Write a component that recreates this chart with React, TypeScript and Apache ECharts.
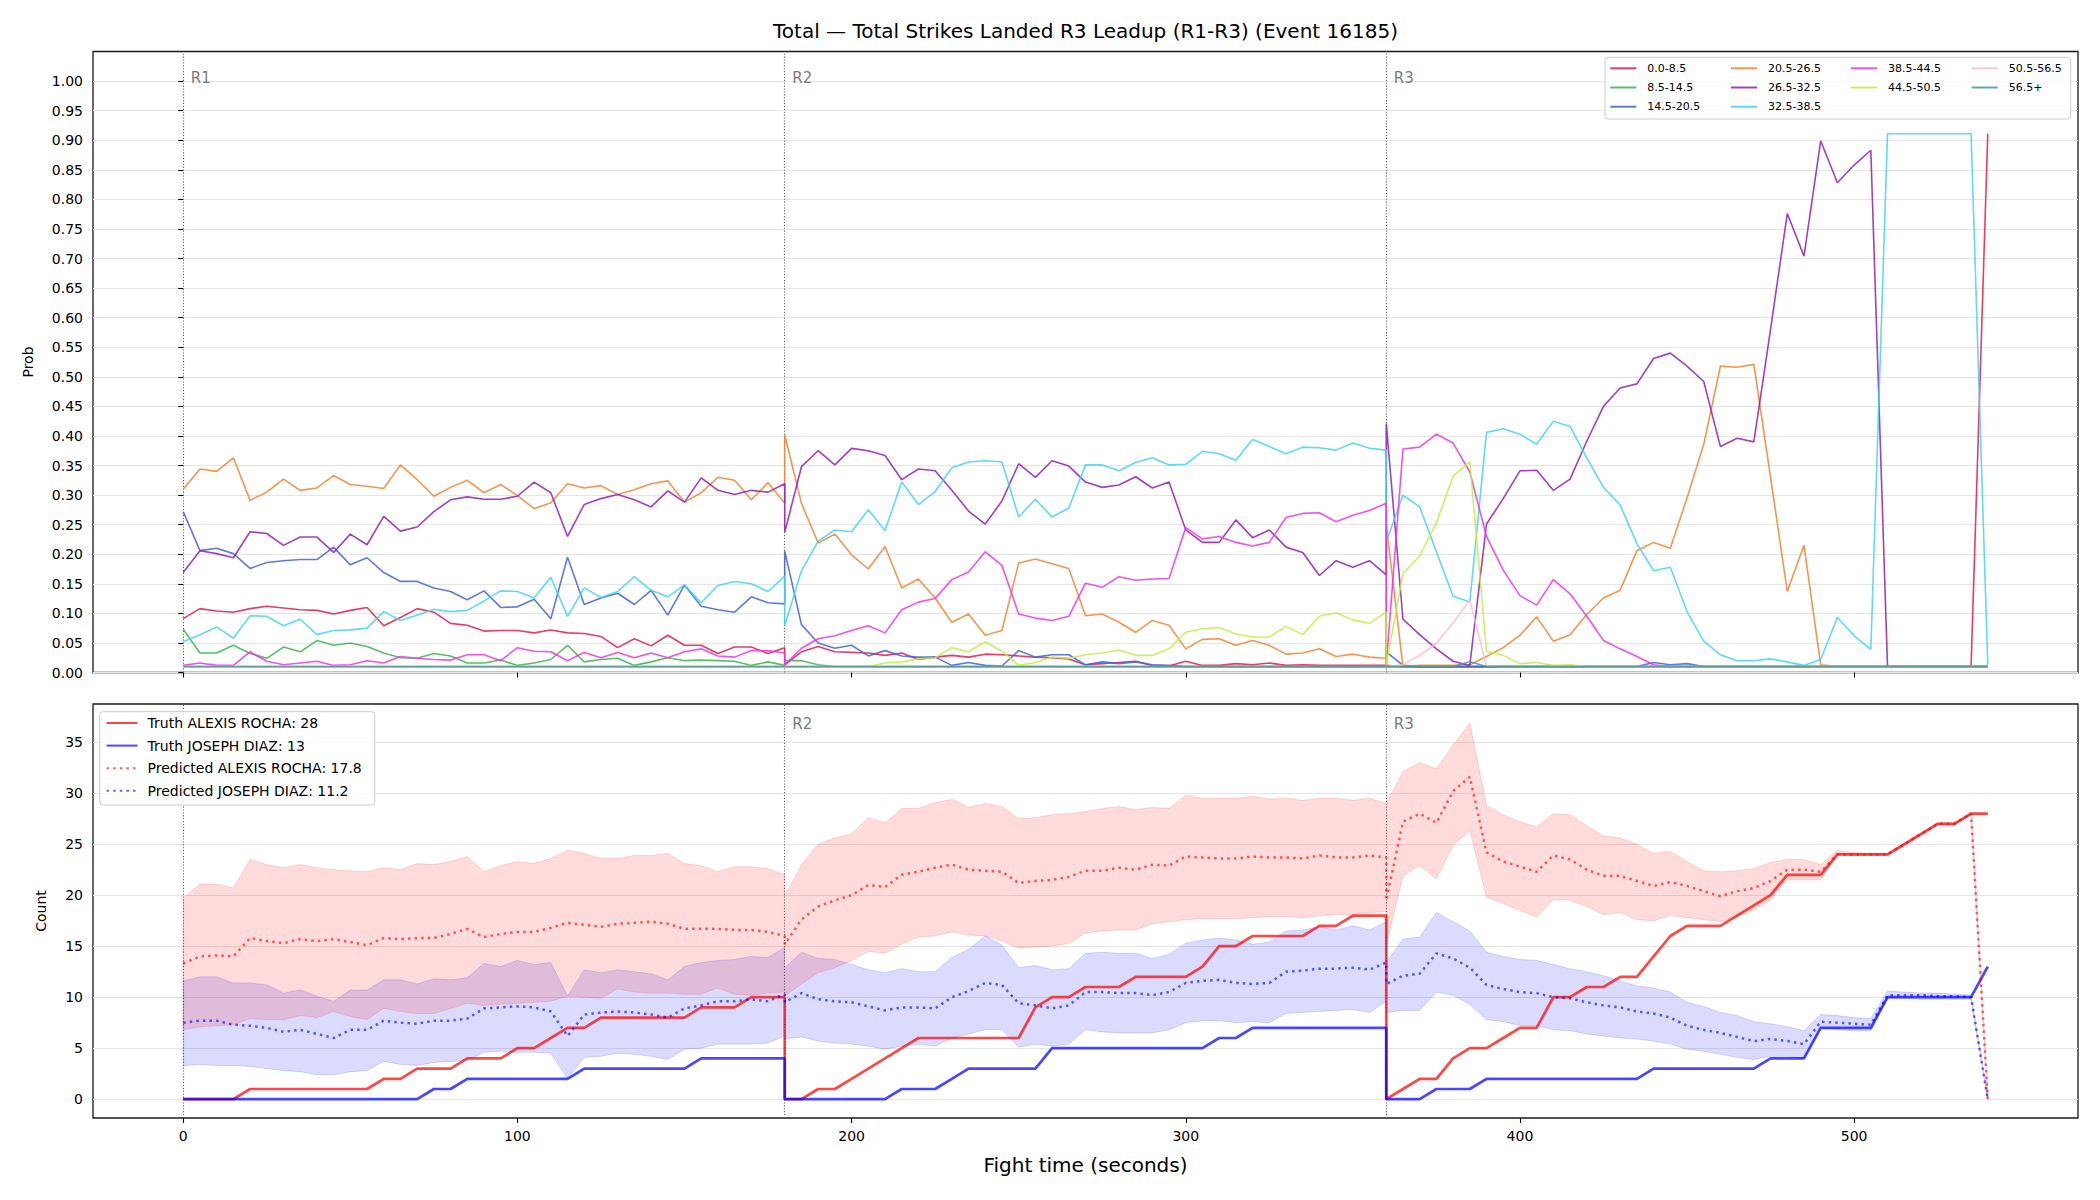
import React, { useEffect, useRef } from "react";
import * as echarts from "echarts";

const FONT = "DejaVu Sans";
const TITLE = "Total \u2014 Total Strikes Landed R3 Leadup (R1-R3) (Event 16185)";

// Time axis: three rounds, each sampled every 5 s from its start (boundaries repeat).
const ROUND_STARTS = [0, 180, 360];
const ROUND_NAMES = ["R1", "R2", "R3"];
const STEP_SECONDS = 5;
const POINTS_PER_ROUND = 37;
const TIMES = ROUND_STARTS.flatMap((start) =>
  Array.from({ length: POINTS_PER_ROUND }, (_, i) => start + i * STEP_SECONDS)
);

const X_TICKS = [0, 100, 200, 300, 400, 500];
const PROB_TICKS = [
  0, 0.05, 0.1, 0.15, 0.2, 0.25, 0.3, 0.35, 0.4, 0.45, 0.5, 0.55, 0.6, 0.65, 0.7, 0.75,
  0.8, 0.85, 0.9, 0.95, 1.0,
];
const COUNT_TICKS = [0, 5, 10, 15, 20, 25, 30, 35];

const BUCKETS = [
  "0.0-8.5", "8.5-14.5", "14.5-20.5", "20.5-26.5", "26.5-32.5",
  "32.5-38.5", "38.5-44.5", "44.5-50.5", "50.5-56.5", "56.5+",
];
const BUCKET_COLORS = [
  "#e6194b", "#3cb44b", "#4363d8", "#f58231", "#911eb4",
  "#42d4f4", "#f032e6", "#bfef45", "#fabed4", "#469990",
];
const LEGEND_COLUMNS = [[0, 1, 2], [3, 4, 5], [6, 7], [8, 9]];

// A round in which a bucket stays at its probability floor.
const FLAT_ROUND = [
  0.01, 0.01, 0.01, 0.01, 0.01, 0.01, 0.01, 0.01, 0.01, 0.01,
  0.01, 0.01, 0.01, 0.01, 0.01, 0.01, 0.01, 0.01, 0.01, 0.01,
  0.01, 0.01, 0.01, 0.01, 0.01, 0.01, 0.01, 0.01, 0.01, 0.01,
  0.01, 0.01, 0.01, 0.01, 0.01, 0.01, 0.01,
];

const P_0_0_8_5 = [
  0.091, 0.108, 0.104, 0.102, 0.108, 0.112, 0.109, 0.106, 0.105, 0.099,
  0.105, 0.110, 0.079, 0.093, 0.108, 0.102, 0.083, 0.080, 0.070, 0.071,
  0.071, 0.067, 0.072, 0.067, 0.066, 0.061, 0.042, 0.057, 0.045, 0.063,
  0.046, 0.046, 0.032, 0.043, 0.043, 0.032, 0.042,
  0.013, 0.035, 0.044, 0.035, 0.034, 0.033, 0.029, 0.033, 0.022, 0.026,
  0.029, 0.026, 0.031, 0.030, 0.028, 0.026, 0.025, 0.023, 0.013, 0.015,
  0.017, 0.019, 0.012, 0.011, 0.019, 0.012, 0.012, 0.015, 0.013, 0.016,
  0.012, 0.013, 0.012, 0.012, 0.012, 0.012, 0.012,
  0.012, 0.01, 0.01, 0.01, 0.01, 0.01, 0.01, 0.01, 0.01, 0.01,
  0.01, 0.01, 0.01, 0.01, 0.01, 0.01, 0.01, 0.01, 0.01, 0.01,
  0.01, 0.01, 0.01, 0.01, 0.01, 0.01, 0.01, 0.01, 0.01, 0.01,
  0.01, 0.01, 0.01, 0.01, 0.01, 0.01, 0.911,
];

const P_8_5_14_5 = [
  0.073, 0.033, 0.033, 0.046, 0.032, 0.024, 0.043, 0.035, 0.054, 0.046,
  0.050, 0.044, 0.033, 0.025, 0.024, 0.032, 0.028, 0.016, 0.016, 0.021,
  0.012, 0.016, 0.022, 0.046, 0.018, 0.022, 0.024, 0.012, 0.018, 0.025,
  0.020, 0.021, 0.020, 0.019, 0.012, 0.018, 0.012,
  0.020, 0.020, 0.013, 0.01, 0.01, 0.01, 0.01, 0.01, 0.01, 0.01,
  0.01, 0.01, 0.01, 0.01, 0.01, 0.01, 0.01, 0.01, 0.01, 0.01,
  0.01, 0.01, 0.01, 0.01, 0.01, 0.01, 0.01, 0.01, 0.01, 0.01,
  0.01, 0.01, 0.01, 0.01, 0.01, 0.01, 0.01,
  ...FLAT_ROUND,
];

const P_14_5_20_5 = [
  0.272, 0.206, 0.210, 0.201, 0.176, 0.186, 0.189, 0.191, 0.191, 0.212,
  0.182, 0.194, 0.169, 0.154, 0.154, 0.143, 0.137, 0.123, 0.138, 0.110,
  0.111, 0.124, 0.091, 0.195, 0.115, 0.126, 0.134, 0.115, 0.139, 0.097,
  0.148, 0.112, 0.106, 0.102, 0.128, 0.118, 0.116,
  0.205, 0.081, 0.050, 0.041, 0.046, 0.028, 0.037, 0.028, 0.026, 0.026,
  0.012, 0.017, 0.012, 0.011, 0.037, 0.026, 0.030, 0.030, 0.013, 0.018,
  0.015, 0.018, 0.013, 0.012, 0.01, 0.01, 0.01, 0.01, 0.01, 0.01,
  0.01, 0.01, 0.01, 0.01, 0.01, 0.01, 0.01,
  0.035, 0.012, 0.01, 0.01, 0.01, 0.01, 0.01, 0.01, 0.01, 0.01,
  0.01, 0.01, 0.01, 0.01, 0.01, 0.01, 0.017, 0.013, 0.015, 0.01,
  0.01, 0.01, 0.01, 0.01, 0.01, 0.01, 0.01, 0.01, 0.01, 0.01,
  0.01, 0.01, 0.01, 0.01, 0.01, 0.01, 0.01,
];

const P_20_5_26_5 = [
  0.310, 0.344, 0.340, 0.363, 0.291, 0.305, 0.327, 0.308, 0.312, 0.333,
  0.318, 0.315, 0.311, 0.351, 0.326, 0.298, 0.313, 0.325, 0.304, 0.318,
  0.299, 0.277, 0.287, 0.319, 0.312, 0.316, 0.301, 0.309, 0.319, 0.324,
  0.288, 0.304, 0.330, 0.325, 0.292, 0.321, 0.286,
  0.402, 0.286, 0.219, 0.234, 0.199, 0.175, 0.213, 0.143, 0.158, 0.126,
  0.085, 0.099, 0.063, 0.071, 0.185, 0.192, 0.184, 0.176, 0.096, 0.099,
  0.085, 0.068, 0.088, 0.080, 0.040, 0.056, 0.057, 0.046, 0.054, 0.046,
  0.031, 0.033, 0.040, 0.027, 0.031, 0.026, 0.024,
  0.250, 0.010, 0.012, 0.012, 0.012, 0.013, 0.027, 0.042, 0.063, 0.094,
  0.053, 0.064, 0.098, 0.126, 0.139, 0.206, 0.220, 0.210, 0.295, 0.386,
  0.518, 0.516, 0.521, 0.330, 0.137, 0.215, 0.013, 0.010, 0.010, 0.010,
  0.010, 0.010, 0.010, 0.010, 0.010, 0.010, 0.010,
];

const P_26_5_32_5 = [
  0.169, 0.206, 0.201, 0.194, 0.238, 0.235, 0.215, 0.229, 0.229, 0.203,
  0.234, 0.216, 0.264, 0.239, 0.246, 0.272, 0.292, 0.297, 0.293, 0.293,
  0.298, 0.322, 0.304, 0.230, 0.284, 0.294, 0.301, 0.292, 0.280, 0.307,
  0.288, 0.329, 0.308, 0.301, 0.308, 0.305, 0.319,
  0.237, 0.348, 0.375, 0.351, 0.379, 0.375, 0.367, 0.326, 0.344, 0.341,
  0.308, 0.273, 0.251, 0.290, 0.353, 0.330, 0.358, 0.349, 0.322, 0.313,
  0.317, 0.331, 0.312, 0.322, 0.241, 0.220, 0.220, 0.258, 0.228, 0.241,
  0.212, 0.203, 0.164, 0.189, 0.178, 0.189, 0.165,
  0.421, 0.090, 0.064, 0.040, 0.019, 0.012, 0.251, 0.294, 0.341, 0.342,
  0.308, 0.327, 0.391, 0.450, 0.481, 0.488, 0.531, 0.540, 0.518, 0.492,
  0.382, 0.396, 0.390, 0.580, 0.776, 0.704, 0.899, 0.828, 0.858, 0.883,
  0.010, 0.010, 0.010, 0.010, 0.010, 0.010, 0.010,
];

const P_32_5_38_5 = [
  0.052, 0.064, 0.077, 0.058, 0.096, 0.095, 0.079, 0.090, 0.064, 0.071,
  0.072, 0.075, 0.103, 0.088, 0.097, 0.107, 0.103, 0.105, 0.121, 0.138,
  0.137, 0.126, 0.161, 0.095, 0.143, 0.127, 0.137, 0.162, 0.139, 0.128,
  0.148, 0.118, 0.147, 0.154, 0.150, 0.137, 0.163,
  0.079, 0.172, 0.222, 0.241, 0.238, 0.275, 0.240, 0.322, 0.284, 0.306,
  0.346, 0.356, 0.358, 0.356, 0.263, 0.293, 0.263, 0.278, 0.351, 0.351,
  0.341, 0.355, 0.363, 0.351, 0.352, 0.374, 0.370, 0.359, 0.394, 0.382,
  0.370, 0.381, 0.380, 0.376, 0.388, 0.379, 0.376,
  0.221, 0.300, 0.280, 0.204, 0.129, 0.119, 0.406, 0.412, 0.403, 0.386,
  0.425, 0.416, 0.363, 0.313, 0.283, 0.218, 0.172, 0.178, 0.103, 0.053,
  0.030, 0.020, 0.020, 0.023, 0.018, 0.012, 0.022, 0.093, 0.062, 0.039,
  0.911, 0.911, 0.911, 0.911, 0.911, 0.911, 0.012,
];

const P_38_5_44_5 = [
  0.012, 0.016, 0.012, 0.012, 0.035, 0.019, 0.013, 0.016, 0.019, 0.012,
  0.013, 0.020, 0.016, 0.027, 0.024, 0.022, 0.021, 0.030, 0.030, 0.020,
  0.042, 0.036, 0.035, 0.020, 0.034, 0.025, 0.034, 0.025, 0.033, 0.025,
  0.035, 0.040, 0.028, 0.026, 0.037, 0.037, 0.033,
  0.013, 0.041, 0.057, 0.062, 0.071, 0.079, 0.067, 0.106, 0.119, 0.125,
  0.157, 0.170, 0.204, 0.181, 0.099, 0.092, 0.088, 0.095, 0.151, 0.144,
  0.162, 0.156, 0.158, 0.159, 0.245, 0.226, 0.230, 0.220, 0.214, 0.220,
  0.262, 0.269, 0.270, 0.255, 0.266, 0.274, 0.286,
  0.012, 0.378, 0.381, 0.403, 0.388, 0.339, 0.230, 0.173, 0.130, 0.114,
  0.157, 0.133, 0.095, 0.054, 0.040, 0.027, 0.013, 0.010, 0.010, 0.010,
  0.01, 0.01, 0.01, 0.01, 0.01, 0.01, 0.01, 0.01, 0.01, 0.01,
  0.01, 0.01, 0.01, 0.01, 0.01, 0.01, 0.01,
];

const P_44_5_50_5 = [
  ...FLAT_ROUND,
  0.010, 0.010, 0.010, 0.010, 0.010, 0.010, 0.016, 0.018, 0.023, 0.025,
  0.042, 0.035, 0.052, 0.036, 0.012, 0.017, 0.026, 0.024, 0.030, 0.033,
  0.038, 0.029, 0.029, 0.040, 0.068, 0.074, 0.076, 0.065, 0.060, 0.060,
  0.078, 0.064, 0.095, 0.101, 0.089, 0.083, 0.102,
  0.012, 0.167, 0.197, 0.253, 0.332, 0.356, 0.036, 0.029, 0.015, 0.017,
  0.012, 0.013, 0.01, 0.01, 0.01, 0.01, 0.01, 0.01, 0.01, 0.01,
  0.01, 0.01, 0.01, 0.01, 0.01, 0.01, 0.01, 0.01, 0.01, 0.01,
  0.01, 0.01, 0.01, 0.01, 0.01, 0.01, 0.01,
];

const P_50_5_56_5 = [
  ...FLAT_ROUND,
  ...FLAT_ROUND,
  0.010, 0.013, 0.029, 0.049, 0.084, 0.122, 0.011, 0.010, 0.010, 0.010,
  0.01, 0.01, 0.01, 0.01, 0.01, 0.01, 0.01, 0.01, 0.01, 0.01,
  0.01, 0.01, 0.01, 0.01, 0.01, 0.01, 0.01, 0.01, 0.01, 0.01,
  0.01, 0.01, 0.01, 0.01, 0.01, 0.01, 0.01,
];

const P_56_5_PLUS = [
  ...FLAT_ROUND,
  ...FLAT_ROUND,
  0.010, 0.010, 0.010, 0.010, 0.010, 0.018, 0.010, 0.010, 0.010, 0.010,
  0.01, 0.01, 0.01, 0.01, 0.01, 0.01, 0.01, 0.01, 0.01, 0.01,
  0.01, 0.01, 0.01, 0.01, 0.01, 0.01, 0.01, 0.01, 0.01, 0.01,
  0.01, 0.01, 0.01, 0.01, 0.01, 0.01, 0.01,
];

const PROB_SERIES = [
  P_0_0_8_5, P_8_5_14_5, P_14_5_20_5, P_20_5_26_5, P_26_5_32_5,
  P_32_5_38_5, P_38_5_44_5, P_44_5_50_5, P_50_5_56_5, P_56_5_PLUS,
];

// Count panel
const FIGHTER_RED = "ALEXIS ROCHA";
const FIGHTER_BLUE = "JOSEPH DIAZ";
const PRED_TOTAL_RED = 17.8;
const PRED_TOTAL_BLUE = 11.2;

const TRUTH_ROCHA = [
  0, 0, 0, 0, 1, 1, 1, 1, 1, 1, 1, 1, 2, 2, 3, 3, 3, 4, 4, 4,
  5, 5, 6, 7, 7, 8, 8, 8, 8, 8, 8, 9, 9, 9, 10, 10, 10,
  0, 0, 1, 1, 2, 3, 4, 5, 6, 6, 6, 6, 6, 6, 6, 9, 10, 10, 11, 11,
  11, 12, 12, 12, 12, 13, 15, 15, 16, 16, 16, 16, 17, 17, 18, 18, 18,
  0, 1, 2, 2, 4, 5, 5, 6, 7, 7, 10, 10, 11, 11, 12, 12, 14, 16, 17, 17,
  17, 18, 19, 20, 22, 22, 22, 24, 24, 24, 24, 25, 26, 27, 27, 28, 28,
];

const TRUTH_DIAZ = [
  0, 0, 0, 0, 0, 0, 0, 0, 0, 0, 0, 0, 0, 0, 0, 1, 1, 2, 2, 2,
  2, 2, 2, 2, 3, 3, 3, 3, 3, 3, 3, 4, 4, 4, 4, 4, 4,
  0, 0, 0, 0, 0, 0, 0, 1, 1, 1, 2, 3, 3, 3, 3, 3, 5, 5, 5, 5,
  5, 5, 5, 5, 5, 5, 6, 6, 7, 7, 7, 7, 7, 7, 7, 7, 7,
  0, 0, 0, 1, 1, 1, 2, 2, 2, 2, 2, 2, 2, 2, 2, 2, 3, 3, 3, 3,
  3, 3, 3, 4, 4, 4, 7, 7, 7, 7, 10, 10, 10, 10, 10, 10, 13,
];

const PRED_ROCHA = [
  13.3, 14.0, 14.1, 14.0, 15.8, 15.5, 15.3, 15.7, 15.5, 15.7,
  15.4, 15.1, 15.8, 15.7, 15.8, 15.8, 16.2, 16.7, 15.9, 16.2,
  16.4, 16.4, 16.8, 17.3, 17.1, 16.9, 17.2, 17.3, 17.4, 17.2,
  16.7, 16.7, 16.7, 16.6, 16.6, 16.4, 16.0,
  15.2, 17.6, 18.9, 19.5, 20.0, 21.0, 20.8, 22.0, 22.3, 22.7,
  23.0, 22.5, 22.4, 22.3, 21.2, 21.4, 21.5, 21.8, 22.4, 22.4,
  22.7, 22.5, 23.0, 22.9, 23.8, 23.7, 23.6, 23.6, 23.8, 23.7,
  23.7, 23.6, 23.9, 23.7, 23.7, 23.9, 23.7,
  19.5, 27.2, 28.0, 27.1, 30.2, 31.6, 24.2, 23.3, 22.8, 22.3,
  23.9, 23.5, 22.5, 21.9, 21.9, 21.4, 20.9, 21.3, 20.9, 20.4,
  19.9, 20.4, 20.7, 21.4, 22.5, 22.5, 22.3, 24.0, 24.0, 24.0,
  24.0, 25.0, 26.0, 27.0, 27.0, 28.0, 0,
];

const PRED_DIAZ = [
  7.5, 7.7, 7.7, 7.3, 7.2, 7.0, 6.6, 6.8, 6.4, 6.0,
  6.8, 6.8, 7.7, 7.5, 7.4, 7.7, 7.7, 7.9, 8.9, 9.0,
  9.1, 9.0, 8.6, 6.2, 8.3, 8.5, 8.6, 8.5, 8.3, 8.0,
  8.9, 9.2, 9.6, 9.6, 9.8, 9.6, 10.3,
  9.5, 10.4, 9.8, 9.6, 9.5, 9.1, 8.7, 9.0, 9.0, 8.9,
  10.0, 10.6, 11.4, 11.2, 9.4, 9.2, 8.9, 9.2, 10.5, 10.5,
  10.4, 10.4, 10.2, 10.5, 11.4, 11.6, 11.7, 11.4, 11.3, 11.4,
  12.5, 12.6, 12.8, 12.8, 12.9, 12.7, 13.4,
  11.3, 12.1, 12.3, 14.3, 13.8, 12.9, 11.2, 10.8, 10.5, 10.4,
  10.0, 9.9, 9.5, 9.2, 9.0, 8.6, 8.4, 8.0, 7.2, 6.8,
  6.5, 6.1, 5.7, 5.9, 5.7, 5.4, 7.6, 7.5, 7.4, 7.3,
  10.2, 10.2, 10.2, 10.1, 10.1, 10.0, 0,
];

const BAND_ROCHA_LO = [
  6.8, 7.1, 7.2, 7.3, 7.9, 7.8, 7.8, 8.2, 8.0, 8.6,
  8.1, 7.8, 8.9, 8.6, 8.4, 8.4, 8.9, 9.4, 9.2, 9.3,
  9.4, 9.5, 9.6, 10.1, 10.0, 9.9, 10.8, 10.5, 10.4, 10.4,
  10.3, 10.3, 10.9, 10.3, 10.2, 10.4, 10.5,
  10.1, 11.3, 12.4, 12.9, 13.6, 14.5, 14.3, 15.2, 15.9, 16.0,
  16.4, 16.1, 16.0, 15.5, 14.8, 14.9, 15.0, 15.3, 16.3, 16.5,
  16.6, 16.6, 17.2, 17.4, 17.6, 17.7, 17.7, 17.7, 17.8, 17.9,
  17.9, 17.8, 18.0, 18.1, 18.1, 18.3, 18.4,
  15.0, 21.9, 22.9, 21.6, 24.9, 26.3, 19.8, 19.2, 18.5, 17.9,
  19.6, 19.5, 18.9, 18.1, 18.3, 17.6, 17.5, 18.0, 17.8, 17.6,
  17.4, 17.9, 18.6, 19.5, 21.5, 21.5, 21.5, 24.0, 23.9, 23.9,
  23.9, 24.9, 25.9, 26.9, 26.9, 27.9, 0,
];

const BAND_ROCHA_HI = [
  19.7, 21.1, 21.1, 20.7, 23.5, 23.0, 22.7, 23.0, 22.7, 22.5,
  22.4, 22.3, 22.7, 22.5, 23.1, 23.0, 23.3, 23.8, 22.3, 22.9,
  23.3, 23.1, 23.6, 24.4, 24.1, 23.6, 23.6, 23.9, 23.9, 24.1,
  23.1, 22.9, 22.3, 22.8, 22.8, 22.6, 22.0,
  19.9, 23.0, 25.0, 25.6, 26.0, 27.6, 27.1, 28.5, 28.5, 29.1,
  29.4, 28.6, 29.0, 28.7, 27.5, 27.6, 27.9, 28.0, 28.2, 28.5,
  28.7, 28.4, 28.6, 28.5, 29.8, 29.5, 29.5, 29.5, 29.7, 29.4,
  29.5, 29.3, 29.5, 29.5, 29.3, 29.5, 29.0,
  29.0, 32.1, 33.0, 32.4, 34.7, 36.9, 28.8, 27.9, 27.2, 26.7,
  28.0, 27.9, 26.8, 25.8, 25.6, 25.0, 24.1, 24.3, 23.3, 22.4,
  22.3, 22.4, 22.6, 23.2, 23.5, 23.5, 23.0, 24.4, 24.2, 24.1,
  24.1, 25.1, 26.1, 27.1, 27.1, 28.1, 0,
];

const BAND_DIAZ_LO = [
  3.3, 3.4, 3.3, 3.3, 3.2, 3.0, 2.8, 2.7, 2.4, 2.4,
  2.7, 2.8, 3.7, 3.4, 3.3, 3.6, 3.7, 3.8, 4.6, 4.7,
  4.6, 4.6, 4.5, 2.0, 4.1, 4.2, 4.5, 4.4, 4.2, 3.9,
  4.9, 5.0, 5.4, 5.4, 5.4, 5.5, 6.2,
  5.9, 6.1, 5.7, 5.5, 5.4, 5.2, 4.9, 5.2, 5.4, 5.2,
  6.0, 6.4, 6.8, 6.8, 5.1, 5.4, 5.2, 5.4, 6.8, 6.6,
  6.5, 6.5, 6.5, 6.8, 7.5, 7.7, 7.7, 7.5, 7.6, 7.5,
  8.4, 8.5, 8.6, 8.7, 8.8, 8.5, 9.6,
  8.5, 8.7, 8.7, 10.5, 10.2, 9.3, 7.8, 7.6, 7.2, 7.2,
  6.8, 6.7, 6.4, 6.2, 6.0, 5.9, 5.7, 5.4, 4.9, 4.7,
  4.4, 4.1, 3.9, 4.2, 4.2, 4.0, 7.0, 6.8, 6.7, 6.7,
  9.9, 9.9, 9.8, 9.8, 9.8, 9.8, 0,
];

const BAND_DIAZ_HI = [
  11.6, 12.0, 12.0, 11.4, 11.4, 11.2, 10.4, 10.7, 10.1, 9.6,
  10.7, 10.7, 11.7, 11.7, 11.3, 11.8, 11.7, 11.9, 13.3, 13.0,
  13.6, 13.2, 13.4, 10.1, 12.7, 12.4, 12.7, 12.5, 12.3, 11.7,
  13.0, 13.4, 13.6, 13.7, 14.0, 13.9, 14.9,
  12.9, 14.4, 13.8, 13.7, 13.2, 12.7, 12.4, 12.8, 12.5, 12.5,
  13.9, 14.7, 16.0, 15.1, 12.9, 13.1, 12.7, 12.8, 14.3, 14.4,
  14.3, 14.3, 13.8, 14.2, 15.3, 15.6, 15.8, 15.6, 15.2, 15.4,
  16.5, 16.6, 16.9, 16.6, 17.0, 16.6, 17.4,
  13.4, 15.7, 15.9, 18.3, 17.4, 16.5, 14.4, 14.0, 13.7, 13.6,
  13.2, 12.8, 12.5, 12.1, 11.6, 11.1, 10.9, 10.5, 9.5, 9.1,
  8.5, 8.2, 7.6, 7.4, 7.1, 6.7, 8.3, 8.2, 8.0, 7.9,
  10.6, 10.5, 10.4, 10.4, 10.3, 10.2, 0,
];

// Round labels sit near the top of each panel.
const PROB_LABEL_LEVEL = 1.006;
const COUNT_LABEL_LEVEL = 36.82;

// Layout (px)
const CHART_W = 2100;
const CHART_H = 1200;
const PLOT_LEFT = 93;
const PLOT_WIDTH = 1985;
const TOP_PANEL = { top: 51.5, height: 621 };
const BOTTOM_PANEL = { top: 704, height: 414 };

const GRID_LINE = { color: "#e5e5e5", width: 1, type: "solid" };
const ROUND_LINE = { color: "#5e5e5e", width: 1.1, type: [1.1, 1.8], opacity: 1 };
const TICK_STYLE = { color: "#000", width: 1.1 };

const pairs = (values: number[]) => TIMES.map((t, i) => [t, values[i]]);

function bandSeries(lo: number[], hi: number[], color: string) {
  return {
    type: "custom",
    xAxisIndex: 1,
    yAxisIndex: 1,
    silent: true,
    z: 2,
    data: [[TIMES[0], lo[0], hi[0]]],
    renderItem: (_params: any, api: any) => {
      const upper = TIMES.map((t, i) => api.coord([t, hi[i]]));
      const lower = TIMES.map((t, i) => api.coord([t, lo[i]])).reverse();
      return {
        type: "polygon",
        shape: { points: upper.concat(lower) },
        style: { fill: color, stroke: color, lineWidth: 1 },
      };
    },
  };
}

function buildOption() {
  const probSeries = BUCKETS.map((name, k) => ({
    type: "line",
    name,
    xAxisIndex: 0,
    yAxisIndex: 0,
    data: pairs(PROB_SERIES[k]),
    showSymbol: false,
    symbol: "none",
    silent: true,
    emphasis: { disabled: true },
    itemStyle: { color: BUCKET_COLORS[k] },
    lineStyle: { width: 1.6, color: BUCKET_COLORS[k], opacity: 0.85 },
    z: 3,
    ...(k === 0
      ? {
          markLine: {
            silent: true,
            z: 1,
            symbol: ["none", "none"],
            label: { show: false },
            lineStyle: ROUND_LINE,
            data: ROUND_STARTS.map((t) => ({ xAxis: t })),
          },
        }
      : {}),
  }));

  const truthRedName = `Truth ${FIGHTER_RED}: ${TRUTH_ROCHA[TRUTH_ROCHA.length - 1]}`;
  const truthBlueName = `Truth ${FIGHTER_BLUE}: ${TRUTH_DIAZ[TRUTH_DIAZ.length - 1]}`;
  const predRedName = `Predicted ${FIGHTER_RED}: ${PRED_TOTAL_RED}`;
  const predBlueName = `Predicted ${FIGHTER_BLUE}: ${PRED_TOTAL_BLUE}`;

  const countLine = (name: string, values: number[], color: string, dotted: boolean, extra: any = {}) => ({
    type: "line",
    name,
    xAxisIndex: 1,
    yAxisIndex: 1,
    data: pairs(values),
    showSymbol: false,
    symbol: "none",
    silent: true,
    emphasis: { disabled: true },
    itemStyle: { color },
    lineStyle: dotted
      ? { width: 2.5, color, type: [2.5, 4.1], cap: "butt" }
      : { width: 2.7, color },
    z: 3,
    ...extra,
  });

  const countSeries = [
    bandSeries(BAND_DIAZ_LO, BAND_DIAZ_HI, "rgba(0,0,255,0.14)"),
    bandSeries(BAND_ROCHA_LO, BAND_ROCHA_HI, "rgba(255,0,0,0.14)"),
    countLine(truthRedName, TRUTH_ROCHA, "rgba(255,0,0,0.72)", false, {
      markLine: {
        silent: true,
        z: 1,
        symbol: ["none", "none"],
        label: { show: false },
        data: [
          ...COUNT_TICKS.map((v) => ({ yAxis: v, lineStyle: GRID_LINE })),
          ...ROUND_STARTS.map((t) => ({ xAxis: t, lineStyle: ROUND_LINE })),
        ],
      },
    }),
    countLine(truthBlueName, TRUTH_DIAZ, "rgba(0,0,255,0.72)", false),
    countLine(predRedName, PRED_ROCHA, "rgba(255,0,0,0.62)", true),
    countLine(predBlueName, PRED_DIAZ, "rgba(0,0,255,0.62)", true),
  ];

  const roundLabelStyle = {
    show: true,
    position: "right",
    distance: 7,
    formatter: "{b}",
    fontSize: 15,
    color: "#555",
    fontFamily: FONT,
  };

  const labelSeries = [
    {
      type: "scatter",
      xAxisIndex: 0,
      yAxisIndex: 0,
      silent: true,
      symbolSize: 1,
      itemStyle: { color: "transparent" },
      label: roundLabelStyle,
      data: ROUND_STARTS.map((t, i) => ({ name: ROUND_NAMES[i], value: [t, PROB_LABEL_LEVEL] })),
      z: 5,
    },
    {
      type: "scatter",
      xAxisIndex: 1,
      yAxisIndex: 1,
      silent: true,
      symbolSize: 1,
      itemStyle: { color: "transparent" },
      label: roundLabelStyle,
      data: ROUND_STARTS.slice(1).map((t, i) => ({
        name: ROUND_NAMES[i + 1],
        value: [t, COUNT_LABEL_LEVEL],
      })),
      z: 5,
    },
  ];

  const gridBase = {
    left: PLOT_LEFT,
    width: PLOT_WIDTH,
    show: true,
    borderColor: "#1a1a1a",
    borderWidth: 1.3,
    backgroundColor: "transparent",
    containLabel: false,
    outerBoundsMode: "none",
  };

  const xAxisBase = {
    type: "value",
    min: -27,
    max: 567,
    axisLine: { show: false, onZero: false },
    axisTick: { show: true, length: 5, customValues: X_TICKS, lineStyle: TICK_STYLE },
    splitLine: { show: false },
  };

  const topLegendCols = [1609.3, 1730, 1850, 1970.7];
  const probLegends = LEGEND_COLUMNS.map((col, c) => ({
    orient: "vertical",
    left: topLegendCols[c],
    top: 61.3,
    padding: 0,
    itemWidth: 26,
    itemHeight: 14,
    itemGap: 5.2,
    selectedMode: false,
    itemStyle: { opacity: 0 },
    textStyle: { fontSize: 11, color: "#000", fontFamily: FONT, lineHeight: 14, padding: [0, 0, 0, 6] },
    data: col.map((k) => BUCKETS[k]),
    z: 6,
  }));

  const countLegend = {
    orient: "vertical",
    left: 99.8,
    top: 711.7,
    padding: [3.3, 13, 6.2, 5.8],
    itemWidth: 31,
    itemHeight: 16,
    itemGap: 6.6,
    selectedMode: false,
    backgroundColor: "rgba(255,255,255,0.8)",
    borderColor: "#cccccc",
    borderWidth: 1,
    borderRadius: 3,
    itemStyle: { opacity: 0 },
    textStyle: { fontSize: 14, color: "#000", fontFamily: FONT, lineHeight: 16, padding: [0, 0, 0, 5] },
    data: [truthRedName, truthBlueName, predRedName, predBlueName],
    z: 6,
  };

  return {
    animation: false,
    backgroundColor: "#ffffff",
    textStyle: { fontFamily: FONT },
    grid: [
      { ...gridBase, top: TOP_PANEL.top, height: TOP_PANEL.height },
      { ...gridBase, top: BOTTOM_PANEL.top, height: BOTTOM_PANEL.height },
    ],
    xAxis: [
      { ...xAxisBase, gridIndex: 0, axisLabel: { show: false, customValues: X_TICKS } },
      {
        ...xAxisBase,
        gridIndex: 1,
        axisLabel: { show: true, customValues: X_TICKS, fontSize: 14, color: "#000", margin: 11, fontFamily: FONT },
        name: "Fight time (seconds)",
        nameLocation: "middle",
        nameGap: 37,
        nameTextStyle: { fontSize: 20, color: "#000", fontFamily: FONT },
      },
    ],
    yAxis: [
      {
        type: "value",
        gridIndex: 0,
        min: 0,
        max: 1.05,
        interval: 0.05,
        axisLine: { show: false },
        axisTick: { show: true, length: 5, customValues: PROB_TICKS, lineStyle: TICK_STYLE },
        axisLabel: {
          customValues: PROB_TICKS,
          formatter: (v: number) => v.toFixed(2),
          fontSize: 14,
          color: "#000",
          margin: 10,
          fontFamily: FONT,
        },
        splitLine: { show: true, lineStyle: GRID_LINE },
        name: "Prob",
        nameLocation: "middle",
        nameGap: 58,
        nameTextStyle: { fontSize: 14, color: "#000", fontFamily: FONT },
      },
      {
        type: "value",
        gridIndex: 1,
        min: -1.845,
        max: 38.75,
        axisLine: { show: false },
        axisTick: { show: true, length: 5, customValues: COUNT_TICKS, lineStyle: TICK_STYLE },
        axisLabel: { customValues: COUNT_TICKS, fontSize: 14, color: "#000", margin: 10, fontFamily: FONT },
        splitLine: { show: false },
        name: "Count",
        nameLocation: "middle",
        nameGap: 45,
        nameTextStyle: { fontSize: 14, color: "#000", fontFamily: FONT },
      },
    ],
    legend: [...probLegends, countLegend],
    graphic: [
      {
        type: "text",
        x: PLOT_LEFT + PLOT_WIDTH / 2,
        y: 30.8,
        style: {
          text: TITLE,
          fontSize: 20,
          fontFamily: FONT,
          fill: "#000",
          align: "center",
          verticalAlign: "middle",
        },
        z: 10,
      },
      {
        type: "rect",
        shape: { x: 1605, y: 57.3, width: 465.7, height: 61.7, r: 3 },
        style: { fill: "rgba(255,255,255,0.8)", stroke: "#cccccc", lineWidth: 1 },
        z: 5,
        silent: true,
      },
    ],
    series: [...probSeries, ...countSeries, ...labelSeries],
  };
}

export default function App() {
  const ref = useRef<HTMLDivElement | null>(null);

  useEffect(() => {
    if (!ref.current) return;
    const chart = echarts.init(ref.current, null, { renderer: "svg" });
    chart.setOption(buildOption() as any);
    return () => {
      chart.dispose();
    };
  }, []);

  return (
    <div
      ref={ref}
      style={{ position: "absolute", left: 0, top: 0, width: CHART_W, height: CHART_H, background: "#fff" }}
    />
  );
}
